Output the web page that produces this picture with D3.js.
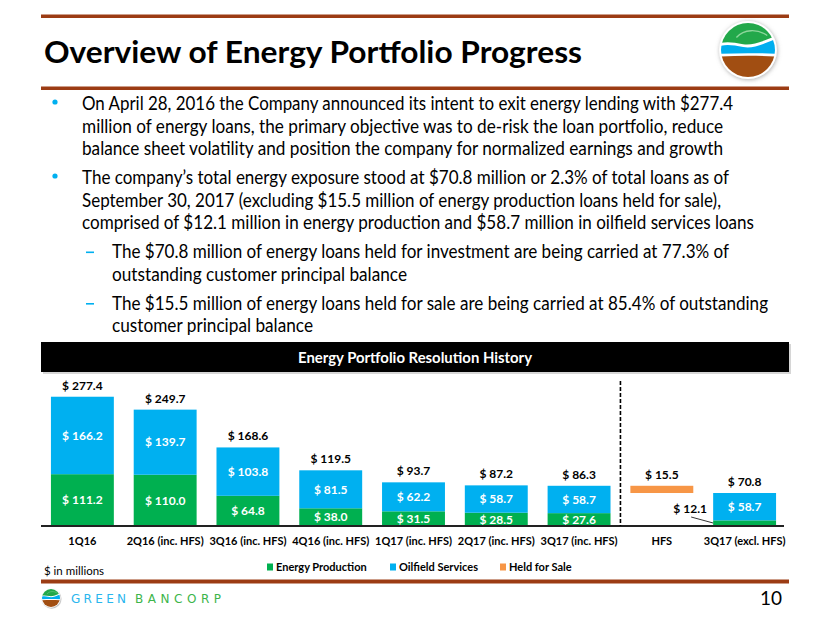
<!DOCTYPE html>
<html><head><meta charset="utf-8">
<script src="https://cdn.jsdelivr.net/npm/d3@7"></script>
<style>
html,body{margin:0;padding:0;background:#fff;}
svg{display:block;font-family:Lato,"Open Sans",sans-serif;}
</style></head>
<body><svg id="c" width="830" height="623"></svg>
<script>
// ---------- data ----------
const categories = ["1Q16","2Q16 (inc. HFS)","3Q16 (inc. HFS)","4Q16 (inc. HFS)","1Q17 (inc. HFS)","2Q17 (inc. HFS)","3Q17 (inc. HFS)","HFS","3Q17 (excl. HFS)"];
const energyProduction = [111.2,110.0,64.8,38.0,31.5,28.5,27.6,null,12.1];
const oilfieldServices = [166.2,139.7,103.8,81.5,62.2,58.7,58.7,null,58.7];
const heldForSale = [null,null,null,null,null,null,null,15.5,null];
const heldForSaleBase = [null,null,null,null,null,null,null,70.8,null];
const totals = [277.4,249.7,168.6,119.5,93.7,87.2,86.3,15.5,70.8];
const seriesNames = ["Energy Production","Oilfield Services","Held for Sale"];
const colors = {"Energy Production":"#00B050","Oilfield Services":"#00B0F0","Held for Sale":"#F79646"};

const titleText = "Overview of Energy Portfolio Progress";
const chartTitle = "Energy Portfolio Resolution History";
const bodyLines = [
  {lvl:0, bullet:true, t:"On April 28, 2016 the Company announced its intent to exit energy lending with $277.4", end:733},
  {lvl:0, t:"million of energy loans, the primary objective was to de-risk the loan portfolio, reduce", end:723},
  {lvl:0, t:"balance sheet volatility and position the company for normalized earnings and growth", end:723},
  {lvl:0, bullet:true, t:"The company\u2019s total energy exposure stood at $70.8 million or 2.3% of total loans as of", end:729},
  {lvl:0, t:"September 30, 2017 (excluding $15.5 million of energy  production loans held for sale),", end:721},
  {lvl:0, t:"comprised of $12.1 million in energy production and $58.7 million in oilfield services loans", end:754},
  {lvl:1, bullet:true, t:"The $70.8 million of energy loans held for investment are being carried at 77.3% of", end:729},
  {lvl:1, t:"outstanding customer principal balance", end:407},
  {lvl:1, bullet:true, t:"The $15.5 million of energy loans held for sale are being carried at 85.4% of outstanding", end:768},
  {lvl:1, t:"customer principal balance", end:313}
];
const lineY = [104,126.5,149,178,200.5,223,252,274.5,303.5,326];

const svg = d3.select("#c");
const rule = "#9C3C14";

// ---------- header ----------
svg.append("rect").attr("x",41).attr("y",14.5).attr("width",748).attr("height",3.5).attr("fill",rule);
svg.append("rect").attr("x",41).attr("y",86.5).attr("width",748).attr("height",3.5).attr("fill",rule);
svg.append("text").attr("x",44).attr("y",63).attr("font-size",29.5).attr("font-weight",700).attr("fill","#000")
  .attr("textLength",538).attr("lengthAdjust","spacingAndGlyphs").text(titleText);

// logo
function logo(cx, cy, r, id){
  const g = svg.append("g");
  const defs = svg.append("defs");
  defs.append("clipPath").attr("id",id).append("circle").attr("cx",cx).attr("cy",cy).attr("r",r);
  const f = defs.append("filter").attr("id",id+"f").attr("x","-30%").attr("y","-30%").attr("width","160%").attr("height","160%");
  f.append("feDropShadow").attr("dx",0.6).attr("dy",0.8).attr("stdDeviation",r/12).attr("flood-color","#777").attr("flood-opacity",0.6);
  g.append("circle").attr("cx",cx).attr("cy",cy).attr("r",r+r*0.07).attr("fill","#fff").attr("filter",`url(#${id}f)`);
  const c = g.append("g").attr("clip-path",`url(#${id})`);
  const s = r/28;
  const X = v => cx + v*s, Y = v => cy + v*s;
  c.append("rect").attr("x",X(-30)).attr("y",Y(-30)).attr("width",60*s).attr("height",60*s).attr("fill","#fff");
  c.append("path").attr("fill","#A14E12")
    .attr("d",`M${X(-30)},${Y(7)} C${X(-10)},${Y(5.5)} ${X(10)},${Y(5.5)} ${X(30)},${Y(7)} L${X(30)},${Y(30)} L${X(-30)},${Y(30)} Z`);
  c.append("path").attr("fill","#00AEEF")
    .attr("d",`M${X(-30)},${Y(-4)} C${X(-22)},${Y(-6)} ${X(-15)},${Y(-5)} ${X(-5)},${Y(-3)} C${X(5)},${Y(-1)} ${X(15)},${Y(-6)} ${X(30)},${Y(-12)} L${X(30)},${Y(4)} C${X(10)},${Y(3)} ${X(-10)},${Y(3)} ${X(-30)},${Y(4)} Z`);
  c.append("path").attr("fill","#22A84A")
    .attr("d",`M${X(-30)},${Y(-30)} L${X(30)},${Y(-30)} L${X(30)},${Y(-15)} C${X(15)},${Y(-9)} ${X(5)},${Y(-4.5)} ${X(-5)},${Y(-6)} C${X(-15)},${Y(-8)} ${X(-22)},${Y(-9)} ${X(-30)},${Y(-7)} Z`);
  c.append("path").attr("fill","none").attr("stroke","#8ED69C").attr("stroke-width",1.4*s)
    .attr("d",`M${X(-12)},${Y(-13)} C${X(-4)},${Y(-22)} ${X(10)},${Y(-22)} ${X(20)},${Y(-15)}`);
}
logo(748,50,27,"lg1");

// ---------- body text ----------
bodyLines.forEach((L,i)=>{
  const y = lineY[i];
  const x0 = L.lvl===0 ? 82 : 112;
  if(L.bullet){
    if(L.lvl===0) svg.append("circle").attr("cx",55).attr("cy",y-2).attr("r",2.6).attr("fill","#00B0F0");
    else svg.append("rect").attr("x",86).attr("y",y-0.5).attr("width",8).attr("height",1.6).attr("fill","#00B0F0");
  }
  svg.append("text").attr("x",x0).attr("y",y+6).attr("font-size",18.5).attr("fill","#000")
    .attr("textLength",L.end-x0).attr("lengthAdjust","spacingAndGlyphs").text(L.t);
});

// ---------- chart banner ----------
svg.append("rect").attr("x",43).attr("y",344).attr("width",748).attr("height",30).attr("fill","#bbb").attr("opacity",0.6);
svg.append("rect").attr("x",41).attr("y",342).attr("width",748).attr("height",30).attr("fill","#000");
svg.append("text").attr("x",415).attr("y",362.5).attr("text-anchor","middle").attr("font-size",15.5).attr("font-weight",700)
  .attr("fill","#fff").attr("textLength",234).attr("lengthAdjust","spacingAndGlyphs").text(chartTitle);

// ---------- chart ----------
const x = d3.scaleBand().domain(categories).range([41,786]).paddingInner(0.24).paddingOuter(0.12);
const y = d3.scaleLinear().domain([0,300]).range([526,386.2]);
const bw = x.bandwidth();

const rows = categories.map((c,i)=>({c, ep:energyProduction[i], os:oilfieldServices[i], hfs:heldForSale[i], hb:heldForSaleBase[i], tot:totals[i]}));
const fmt = v => "$ " + d3.format(".1f")(v);

const gBars = svg.append("g");
gBars.selectAll("rect.ep").data(rows.filter(d=>d.ep!=null)).join("rect").attr("class","ep")
  .attr("x",d=>x(d.c)).attr("width",bw).attr("y",d=>y(d.ep)).attr("height",d=>y(0)-y(d.ep)).attr("fill",colors["Energy Production"]);
gBars.selectAll("rect.os").data(rows.filter(d=>d.os!=null)).join("rect").attr("class","os")
  .attr("x",d=>x(d.c)).attr("width",bw).attr("y",d=>y(d.ep+d.os)).attr("height",d=>y(d.ep)-y(d.ep+d.os)).attr("fill",colors["Oilfield Services"]);
gBars.selectAll("rect.hfs").data(rows.filter(d=>d.hfs!=null)).join("rect").attr("class","hfs")
  .attr("x",d=>x(d.c)).attr("width",bw).attr("y",d=>y(d.hb+d.hfs)).attr("height",d=>y(d.hb)-y(d.hb+d.hfs)).attr("fill",colors["Held for Sale"]);

const lblFont = 12;
svg.append("g").selectAll("text").data(rows).join("text")
  .attr("x",d=>x(d.c)+bw/2)
  .attr("y",d=> (d.hfs!=null ? y(d.hb+d.hfs) : y(d.tot)) - 7)
  .attr("text-anchor","middle").attr("font-size",lblFont).attr("font-weight",700).attr("fill","#000")
  .text(d=>fmt(d.tot));
const inside = [];
rows.forEach(d=>{
  if(d.os!=null) inside.push({c:d.c, v:d.os, yc:(y(d.ep)+y(d.ep+d.os))/2});
  if(d.ep!=null && y(0)-y(d.ep) > 12) inside.push({c:d.c, v:d.ep, yc:(y(0)+y(d.ep))/2});
});
svg.append("g").selectAll("text").data(inside).join("text")
  .attr("x",d=>x(d.c)+bw/2).attr("y",d=>d.yc+4.3)
  .attr("text-anchor","middle").attr("font-size",lblFont).attr("font-weight",700).attr("fill","#fff")
  .text(d=>fmt(d.v));
rows.forEach(d=>{
  if(d.ep!=null && y(0)-y(d.ep) <= 12){
    const bx = x(d.c);
    svg.append("line").attr("x1",bx-22).attr("y1",y(0)-9).attr("x2",bx).attr("y2",y(0)-3).attr("stroke","#000").attr("stroke-width",0.8);
    svg.append("text").attr("x",bx-23).attr("y",y(0)-13).attr("text-anchor","middle").attr("font-size",lblFont).attr("font-weight",700).text(fmt(d.ep));
  }
});

// axis
const xAxis = d3.axisBottom(x).tickSize(0).tickPadding(11);
const ax = svg.append("g").attr("transform",`translate(0,${y(0)})`).call(xAxis);
ax.select(".domain").attr("stroke","#222").attr("stroke-width",2).attr("d","M0,0H743").attr("transform","translate(41,0)");
ax.selectAll("text").attr("font-family","Lato, sans-serif").attr("font-size",11).attr("font-weight",700).attr("fill","#000");

// dashed separator
const sepX = x("HFS") - x.step()*x.paddingInner()/2;
svg.append("line").attr("x1",sepX).attr("x2",sepX).attr("y1",381).attr("y2",y(0)).attr("stroke","#000").attr("stroke-width",1.6).attr("stroke-dasharray","4,2");

// legend
const legX = [267,390,500];
const lg = svg.append("g").selectAll("g").data(seriesNames).join("g").attr("transform",(d,i)=>`translate(${legX[i]},567)`);
lg.append("rect").attr("x",0).attr("y",-3.5).attr("width",6).attr("height",7).attr("fill",d=>colors[d]);
lg.append("text").attr("x",9).attr("y",4).attr("font-size",11).attr("font-weight",700).attr("fill","#000").text(d=>d);

svg.append("text").attr("x",44).attr("y",575).attr("font-size",11.5).attr("fill","#000").text("$ in millions");

// footer
svg.append("rect").attr("x",41).attr("y",579.5).attr("width",748).attr("height",4).attr("fill",rule);
logo(51,598,9,"lg2");
svg.append("text").attr("x",71).attr("y",602.5).attr("font-family","'DejaVu Sans', sans-serif").attr("font-size",12).attr("fill","#29B6EE")
  .attr("textLength",55).attr("lengthAdjust","spacing").text("GREEN");
svg.append("text").attr("x",135).attr("y",602.5).attr("font-family","'DejaVu Sans', sans-serif").attr("font-size",12).attr("fill","#3DB54A")
  .attr("textLength",86).attr("lengthAdjust","spacing").text("BANCORP");
svg.append("text").attr("x",782).attr("y",605).attr("text-anchor","end").attr("font-size",19).attr("fill","#000").text("10");
</script></body></html>
